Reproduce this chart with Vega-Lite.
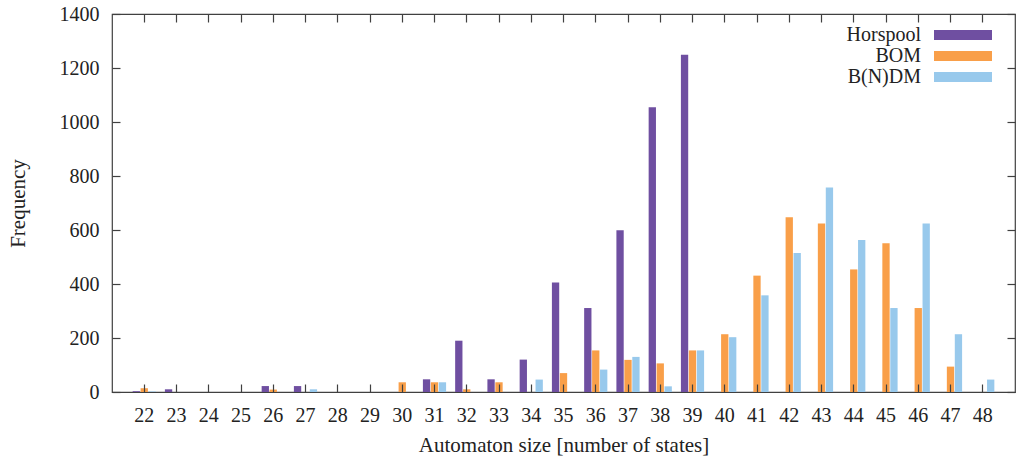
{
  "$schema": "https://vega.github.io/schema/vega-lite/v6.json",
  "width": 903,
  "height": 378,
  "autosize": {"type": "none"},
  "padding": {"left": 112, "top": 14, "right": 9, "bottom": 69},
  "background": "white",
  "config": {
    "font": "Liberation Serif",
    "view": {"stroke": "#404040", "strokeWidth": 1.2, "fill": "transparent"},
    "axis": {"labelFont": "Liberation Serif", "titleFont": "Liberation Serif", "labelColor": "#222", "titleColor": "#222", "domainColor": "#404040", "tickColor": "#404040", "tickWidth": 1.2, "labelFontSize": 20, "titleFontSize": 21, "titleFontWeight": "normal", "grid": false, "zindex": 3},
    "legend": {"labelFont": "Liberation Serif", "labelFontSize": 20, "labelColor": "#222"}
  },
  "data": {"values": [
    {"size": 22, "algo": "Horspool", "freq": 3}, {"size": 22, "algo": "BOM", "freq": 14}, {"size": 22, "algo": "B(N)DM", "freq": 2},
    {"size": 23, "algo": "Horspool", "freq": 10}, {"size": 23, "algo": "BOM", "freq": 0}, {"size": 23, "algo": "B(N)DM", "freq": 0},
    {"size": 24, "algo": "Horspool", "freq": 0}, {"size": 24, "algo": "BOM", "freq": 0}, {"size": 24, "algo": "B(N)DM", "freq": 0},
    {"size": 25, "algo": "Horspool", "freq": 0}, {"size": 25, "algo": "BOM", "freq": 0}, {"size": 25, "algo": "B(N)DM", "freq": 0},
    {"size": 26, "algo": "Horspool", "freq": 22}, {"size": 26, "algo": "BOM", "freq": 9}, {"size": 26, "algo": "B(N)DM", "freq": 0},
    {"size": 27, "algo": "Horspool", "freq": 22}, {"size": 27, "algo": "BOM", "freq": 0}, {"size": 27, "algo": "B(N)DM", "freq": 10},
    {"size": 28, "algo": "Horspool", "freq": 0}, {"size": 28, "algo": "BOM", "freq": 0}, {"size": 28, "algo": "B(N)DM", "freq": 0},
    {"size": 29, "algo": "Horspool", "freq": 0}, {"size": 29, "algo": "BOM", "freq": 0}, {"size": 29, "algo": "B(N)DM", "freq": 0},
    {"size": 30, "algo": "Horspool", "freq": 0}, {"size": 30, "algo": "BOM", "freq": 36}, {"size": 30, "algo": "B(N)DM", "freq": 0},
    {"size": 31, "algo": "Horspool", "freq": 47}, {"size": 31, "algo": "BOM", "freq": 36}, {"size": 31, "algo": "B(N)DM", "freq": 36},
    {"size": 32, "algo": "Horspool", "freq": 190}, {"size": 32, "algo": "BOM", "freq": 10}, {"size": 32, "algo": "B(N)DM", "freq": 0},
    {"size": 33, "algo": "Horspool", "freq": 47}, {"size": 33, "algo": "BOM", "freq": 36}, {"size": 33, "algo": "B(N)DM", "freq": 0},
    {"size": 34, "algo": "Horspool", "freq": 120}, {"size": 34, "algo": "BOM", "freq": 0}, {"size": 34, "algo": "B(N)DM", "freq": 46},
    {"size": 35, "algo": "Horspool", "freq": 406}, {"size": 35, "algo": "BOM", "freq": 70}, {"size": 35, "algo": "B(N)DM", "freq": 0},
    {"size": 36, "algo": "Horspool", "freq": 311}, {"size": 36, "algo": "BOM", "freq": 154}, {"size": 36, "algo": "B(N)DM", "freq": 83},
    {"size": 37, "algo": "Horspool", "freq": 599}, {"size": 37, "algo": "BOM", "freq": 119}, {"size": 37, "algo": "B(N)DM", "freq": 130},
    {"size": 38, "algo": "Horspool", "freq": 1055}, {"size": 38, "algo": "BOM", "freq": 106}, {"size": 38, "algo": "B(N)DM", "freq": 21},
    {"size": 39, "algo": "Horspool", "freq": 1249}, {"size": 39, "algo": "BOM", "freq": 154}, {"size": 39, "algo": "B(N)DM", "freq": 154},
    {"size": 40, "algo": "Horspool", "freq": 0}, {"size": 40, "algo": "BOM", "freq": 214}, {"size": 40, "algo": "B(N)DM", "freq": 203},
    {"size": 41, "algo": "Horspool", "freq": 0}, {"size": 41, "algo": "BOM", "freq": 431}, {"size": 41, "algo": "B(N)DM", "freq": 358},
    {"size": 42, "algo": "Horspool", "freq": 0}, {"size": 42, "algo": "BOM", "freq": 647}, {"size": 42, "algo": "B(N)DM", "freq": 515},
    {"size": 43, "algo": "Horspool", "freq": 0}, {"size": 43, "algo": "BOM", "freq": 624}, {"size": 43, "algo": "B(N)DM", "freq": 757},
    {"size": 44, "algo": "Horspool", "freq": 0}, {"size": 44, "algo": "BOM", "freq": 454}, {"size": 44, "algo": "B(N)DM", "freq": 563},
    {"size": 45, "algo": "Horspool", "freq": 0}, {"size": 45, "algo": "BOM", "freq": 551}, {"size": 45, "algo": "B(N)DM", "freq": 311},
    {"size": 46, "algo": "Horspool", "freq": 0}, {"size": 46, "algo": "BOM", "freq": 311}, {"size": 46, "algo": "B(N)DM", "freq": 624},
    {"size": 47, "algo": "Horspool", "freq": 0}, {"size": 47, "algo": "BOM", "freq": 94}, {"size": 47, "algo": "B(N)DM", "freq": 214},
    {"size": 48, "algo": "Horspool", "freq": 0}, {"size": 48, "algo": "BOM", "freq": 0}, {"size": 48, "algo": "B(N)DM", "freq": 46}
  ]},
  "layer": [
    {
      "mark": {"type": "bar"},
      "encoding": {
        "x": {"field": "size", "type": "ordinal", "scale": {"paddingInner": 0, "paddingOuter": 0.5},
              "axis": {"title": "Automaton size [number of states]", "labelAngle": 0, "tickSize": -8, "labelPadding": 21, "titlePadding": 9, "domain": false, "zindex": 3,
                       "encoding": {"ticks": {"update": {"stroke": {"value": "#404040"}, "strokeWidth": {"value": 1.2}, "strokeOpacity": {"value": 1}, "opacity": {"value": 1}}}}}},
        "xOffset": {"field": "algo", "type": "nominal", "sort": ["Horspool", "BOM", "B(N)DM"], "scale": {"paddingInner": 0.08, "paddingOuter": 0.57}},
        "y": {"field": "freq", "type": "quantitative", "stack": null, "scale": {"domain": [0, 1400], "nice": false},
              "axis": {"title": "Frequency", "values": [0, 200, 400, 600, 800, 1000, 1200, 1400], "format": "d", "tickSize": -8, "labelPadding": 21, "titlePadding": 31, "domain": false, "zindex": 3,
                       "encoding": {"ticks": {"update": {"stroke": {"value": "#404040"}, "strokeWidth": {"value": 1.2}, "strokeOpacity": {"value": 1}, "opacity": {"value": 1}}}}}},
        "color": {"field": "algo", "type": "nominal", "sort": ["Horspool", "BOM", "B(N)DM"],
                  "scale": {"domain": ["Horspool", "BOM", "B(N)DM"], "range": ["#6f4fa1", "#f99f49", "#98c9ec"]},
                  "legend": {"title": null, "orient": "none", "legendX": 841, "legendY": 11, "symbolType": "M-5.8,-1H5.8V1H-5.8Z", "symbolSize": 100, "symbolStrokeWidth": 0, "labelAlign": "right", "labelOffset": -52, "rowPadding": 1}}
      }
    },
    {
      "mark": {"type": "point", "opacity": 0},
      "encoding": {
        "x": {"field": "size", "type": "ordinal", "axis": {"orient": "top", "labels": false, "title": null, "tickSize": -8, "domain": false, "zindex": 3,
              "encoding": {"ticks": {"update": {"stroke": {"value": "#404040"}, "strokeWidth": {"value": 1.2}, "strokeOpacity": {"value": 1}, "opacity": {"value": 1}}}}}},
        "y": {"field": "freq", "type": "quantitative", "axis": {"orient": "right", "labels": false, "title": null, "tickSize": -8, "domain": false, "zindex": 3, "values": [0, 200, 400, 600, 800, 1000, 1200, 1400],
              "encoding": {"ticks": {"update": {"stroke": {"value": "#404040"}, "strokeWidth": {"value": 1.2}, "strokeOpacity": {"value": 1}, "opacity": {"value": 1}}}}}}
      }
    }
  ],
  "resolve": {"axis": {"x": "independent", "y": "independent"}}
}
